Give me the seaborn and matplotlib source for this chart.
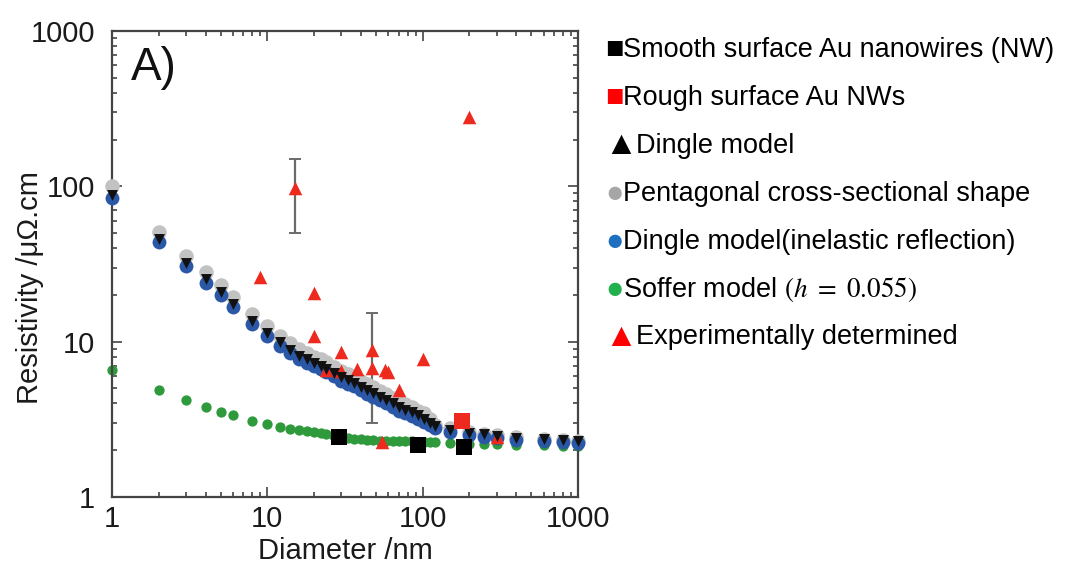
import numpy as np
import pandas as pd
import matplotlib.pyplot as plt
import seaborn as sns

# diameters (nm) of the model curves
diam = [1, 2, 3, 4, 5, 6, 8, 10, 12, 14, 16, 18, 20, 22, 24, 27, 30, 33, 36, 40,
        44, 48, 53, 58, 64, 70, 77, 85, 93, 102, 112, 120, 150, 200, 250, 300,
        400, 600, 800, 1000]

# resistivity (uOhm.cm) of each model
dingle = [88, 46, 32, 25.3, 21, 17.6, 13.6, 11.4, 9.9, 8.9, 8.1, 7.7, 7.3, 7.0,
          6.7, 6.3, 5.9, 5.65, 5.4, 5.1, 4.85, 4.65, 4.4, 4.2, 4.0, 3.8, 3.65,
          3.5, 3.35, 3.2, 3.0, 2.85, 2.70, 2.59, 2.53, 2.47, 2.39, 2.35, 2.33, 2.30]
pentagonal = [101, 51, 35.5, 28, 23.2, 19.4, 15, 12.6, 10.9, 9.8, 9.0, 8.5, 8.0,
              7.7, 7.35, 6.9, 6.5, 6.2, 5.9, 5.6, 5.3, 5.1, 4.8, 4.6, 4.35, 4.15,
              3.95, 3.8, 3.6, 3.45, 3.2, 2.92, 2.78, 2.63, 2.56, 2.5, 2.42, 2.37,
              2.34, 2.31]
dingle_inel = [84, 44, 30.5, 24, 20, 16.7, 12.9, 10.8, 9.4, 8.45, 7.7, 7.3, 6.95,
               6.65, 6.35, 6.0, 5.6, 5.35, 5.15, 4.85, 4.6, 4.4, 4.2, 4.0, 3.8,
               3.6, 3.45, 3.3, 3.2, 3.05, 2.9, 2.78, 2.62, 2.5, 2.45, 2.4, 2.33,
               2.28, 2.26, 2.24]
soffer = [6.6, 4.9, 4.2, 3.8, 3.5, 3.35, 3.08, 2.95, 2.84, 2.76, 2.70, 2.65, 2.61,
          2.57, 2.53, 2.48, 2.44, 2.41, 2.38, 2.35, 2.33, 2.32, 2.31, 2.30, 2.29,
          2.29, 2.28, 2.28, 2.27, 2.27, 2.26, 2.26, 2.23, 2.21, 2.19, 2.18, 2.16,
          2.15, 2.14, 2.13]

# measured nanowires
smooth_d = [29, 93, 185]
smooth_r = [2.45, 2.17, 2.09]
rough_d = [180]
rough_r = [3.1]
exp_d = [9, 15, 20, 20, 24, 30, 30, 38, 47, 47.5, 57, 60, 70, 100, 55, 200, 300]
exp_r = [26, 97, 20.5, 10.9, 6.6, 8.6, 6.5, 6.7, 8.8, 6.8, 6.6, 6.4, 4.9, 7.7,
         2.25, 280, 2.45]

# error bars (diameter, centre, low, high)
err_d = [15, 47]
err_c = [97, 6.8]
err_lo = [50, 3.0]
err_hi = [150, 15.2]

legend_labels = [
    "Smooth surface Au nanowires (NW)",
    "Rough surface Au NWs",
    "Dingle model",
    "Pentagonal cross-sectional shape",
    "Dingle model(inelastic reflection)",
    "Soffer model $(h\\ =\\ 0.055)$",
    "Experimentally determined",
]
legend_glyphs = ["■", "■", "▲", "●", "●", "●", "▲"]
legend_colors = ["#000000", "#ff0000", "#000000", "#a6a6a6", "#1f6fc0",
                 "#22b04c", "#ff0000"]

sns.set_theme(style="ticks")
plt.rcParams["font.family"] = ["Liberation Sans", "DejaVu Sans"]

W, H = 1072, 570
fig = plt.figure(figsize=(W / 100, H / 100), dpi=100)
ax = fig.add_axes([112 / W, (H - 497) / H, 466 / W, 466 / H])

models = pd.DataFrame({"d": diam, "dingle": dingle, "pent": pentagonal,
                       "inel": dingle_inel, "soffer": soffer})

kw = dict(ax=ax, linewidth=0, clip_on=False, legend=False)
sns.scatterplot(data=models, x="d", y="soffer", color="#2f9a3c", s=55, zorder=2, **kw)
sns.scatterplot(data=models, x="d", y="pent", color="#c2c2c2", s=110, zorder=3, **kw)
sns.scatterplot(data=models, x="d", y="inel", color="#2b58a6", s=100, zorder=3, **kw)
sns.scatterplot(x=exp_d, y=exp_r, color="#ee2a1f", marker="^", s=95, zorder=3, **kw)
sns.scatterplot(data=models, x="d", y="dingle", color="#111111", marker="v",
                s=62, zorder=4, **kw)
sns.scatterplot(x=smooth_d, y=smooth_r, color="#000000", marker="s", s=140,
                zorder=5, **kw)
sns.scatterplot(x=rough_d, y=rough_r, color="#ee2a1f", marker="s", s=140,
                zorder=5, **kw)

yerr = [np.subtract(err_c, err_lo), np.subtract(err_hi, err_c)]
ax.errorbar(err_d, err_c, yerr=yerr, fmt="none", ecolor="#6a6a6a",
            elinewidth=1.6, capsize=4, capthick=1.4, zorder=2)

ax.set_xscale("log")
ax.set_yscale("log")
ax.set_xlim(1, 1000)
ax.set_ylim(1, 1000)
ticks = [1, 10, 100, 1000]
tick_labels = ["1", "10", "100", "1000"]
ax.set_xticks(ticks, tick_labels)
ax.set_yticks(ticks, tick_labels)
ax.xaxis.set_minor_formatter(plt.NullFormatter())
ax.yaxis.set_minor_formatter(plt.NullFormatter())
ax.tick_params(which="both", direction="in", top=True, right=True,
               color="#444444", width=1.2)
ax.tick_params(which="major", length=7, labelsize=21, labelcolor="#1a1a1a")
ax.tick_params(axis="x", which="major", pad=6)
ax.tick_params(axis="y", which="major", pad=12)
ax.tick_params(which="minor", length=3.5)
for sp in ax.spines.values():
    sp.set_color("#444444")
    sp.set_linewidth(1.6)

ax.set_xlabel("Diameter /nm", fontsize=21, color="#1a1a1a")
ax.set_ylabel("Resistivity /μΩ.cm", fontsize=21, color="#1a1a1a")
ax.xaxis.set_label_coords(0.5, -0.085)
ax.yaxis.set_label_coords(-0.145, 0.45)
ax.text(0.04, 0.968, "A)", transform=ax.transAxes, fontsize=33, va="top",
        ha="left", color="#111111")

# legend written as text lines on the right
row_y = [50, 98, 146, 194, 242, 290, 337]
for lab, g, c, py in zip(legend_labels, legend_glyphs, legend_colors, row_y):
    tri = g == "▲"
    fig.text((604 if tri else 605) / W, 1 - py / H, g, color=c,
             fontsize=24 if tri else 22, va="center", ha="left",
             family=["Liberation Sans", "DejaVu Sans"])
    fig.text((636 if tri else 623) / W, 1 - py / H, lab, color="#000000",
             fontsize=19.5, va="center", ha="left", math_fontfamily="stix")

fig.savefig("out.png", dpi=100)
